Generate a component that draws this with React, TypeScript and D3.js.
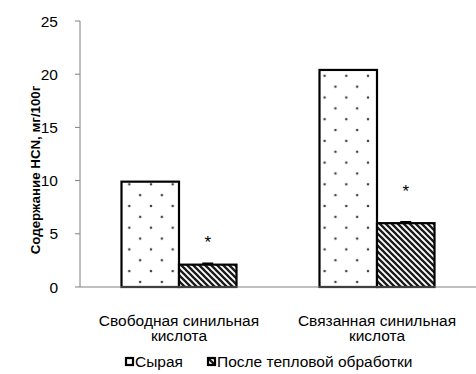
import React from "react";
import * as d3 from "d3";

const categories = [["Свободная синильная", "кислота"], ["Связанная синильная", "кислота"]];
const seriesNames = ["Сырая", "После тепловой обработки"];
const rawValues = [9.9, 20.4];
const heatValues = [2.1, 6.0];
const heatErrors = [0.1, 0.1];
const starValues = [4.5, 9.3];
const yTicks = [0, 5, 10, 15, 20, 25];

const W = 476;
const H = 374;
const left = 80;
const right = 476;
const top = 21;
const bottom = 287;
const font = "'Liberation Sans', Arial, sans-serif";

export default function App() {
  const y = d3.scaleLinear().domain([0, 25]).range([bottom, top]);
  const x0 = d3.scaleBand().domain(["0", "1"]).range([left, right]).paddingInner(0).paddingOuter(0);
  const bw = 57.5;
  const groupCenter = (i: number) => (x0(String(i)) as number) + x0.bandwidth() / 2;

  return (
    <svg width={W} height={H} style={{ position: "absolute", left: 0, top: 0, background: "#fff" }}>
      <defs>
        <pattern id="dots" patternUnits="userSpaceOnUse" x={20.8} y={10.7} width={21.7} height={21.7}>
          <rect width={21.7} height={21.7} fill="#fff" />
          <circle cx={0} cy={0} r={1.3} fill="#444" />
          <circle cx={21.7} cy={0} r={1.3} fill="#444" />
          <circle cx={0} cy={21.7} r={1.3} fill="#444" />
          <circle cx={21.7} cy={21.7} r={1.3} fill="#444" />
          <circle cx={10.85} cy={10.85} r={1.3} fill="#444" />
        </pattern>
        <pattern id="hatch" patternUnits="userSpaceOnUse" width={6} height={6}>
          <rect width={6} height={6} fill="#fff" />
          <path d="M-1,-1 L7,7 M-1,5 L1,7 M5,-1 L7,1" stroke="#1a1a1a" strokeWidth={2.3} />
        </pattern>
      </defs>

      {/* y axis */}
      <line x1={left} x2={left} y1={top} y2={bottom} stroke="#808080" strokeWidth={1} />
      {yTicks.map((t) => (
        <g key={t}>
          <line x1={left - 5} x2={left} y1={y(t)} y2={y(t)} stroke="#808080" />
          <text x={left - 22} y={y(t) + 5.5} textAnchor="end" fontFamily={font} fontSize={15.5} fill="#000">
            {t}
          </text>
        </g>
      ))}
      <text
        transform={`translate(40,170) rotate(-90)`}
        textAnchor="middle"
        fontFamily={font}
        fontSize={13.3}
        fontWeight="bold"
        fill="#000"
      >
        Содержание HCN, мг/100г
      </text>

      {/* bars */}
      {rawValues.map((v, i) => {
        const cx = groupCenter(i);
        return (
          <rect key={"r" + i} x={cx - bw} y={y(v)} width={bw} height={bottom - y(v)} fill="url(#dots)" stroke="#000" strokeWidth={2.2} />
        );
      })}
      {heatValues.map((v, i) => {
        const cx = groupCenter(i);
        return (
          <rect key={"h" + i} x={cx} y={y(v)} width={bw} height={bottom - y(v)} fill="url(#hatch)" stroke="#000" strokeWidth={2.2} />
        );
      })}
      {heatValues.map((v, i) => {
        const cx = groupCenter(i) + bw / 2;
        return (
          <g key={"e" + i}>
            <line x1={cx} x2={cx} y1={y(v)} y2={y(v + heatErrors[i])} stroke="#000" strokeWidth={1.5} />
            <line x1={cx - 5.5} x2={cx + 5.5} y1={y(v + heatErrors[i])} y2={y(v + heatErrors[i])} stroke="#000" strokeWidth={2.2} />
          </g>
        );
      })}
      {starValues.map((v, i) => (
        <text key={"s" + i} x={groupCenter(i) + bw / 2} y={y(v) + 9} textAnchor="middle" fontFamily={font} fontSize={17} fill="#000">
          *
        </text>
      ))}

      {/* x axis */}
      <line x1={left} x2={right} y1={bottom} y2={bottom} stroke="#808080" strokeWidth={1.2} />

      {categories.map((lines, i) => (
        <text key={"c" + i} textAnchor="middle" fontFamily={font} fontSize={15.5} fill="#000">
          {lines.map((l, j) => (
            <tspan key={j} x={groupCenter(i)} y={325.5 + j * 15.5}>
              {l}
            </tspan>
          ))}
        </text>
      ))}

      {/* legend */}
      {seriesNames.map((n, i) => {
        const lx = i === 0 ? 126 : 208;
        return (
          <g key={"l" + i}>
            <rect x={lx} y={358} width={7} height={7} fill={i === 0 ? "url(#dots)" : "url(#hatch)"} stroke="#000" strokeWidth={2.2} />
            <text x={lx + 9} y={367} fontFamily={font} fontSize={15.5} fill="#000">
              {n}
            </text>
          </g>
        );
      })}
    </svg>
  );
}
